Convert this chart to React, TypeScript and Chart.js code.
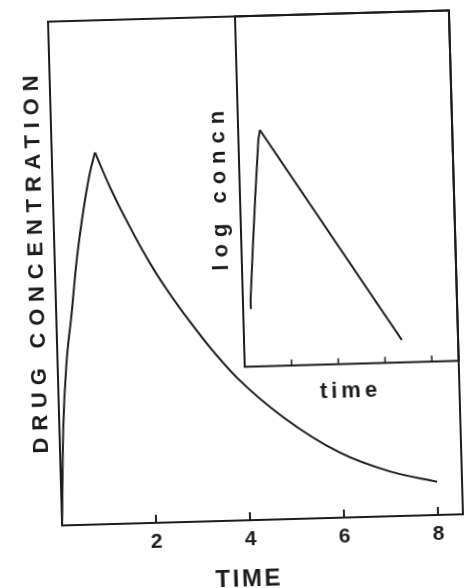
import React, { useEffect, useRef } from 'react';
import { Chart, registerables } from 'chart.js';

Chart.register(...registerables);

const INK = '#1c1c1c';
const FONT = '"Liberation Sans", Arial, Helvetica, sans-serif';

// ---- Main plot: drug concentration vs time (linear) ----
const riseTime = [0, 0.08, 0.19, 0.33, 0.46, 0.63, 0.8, 0.92];
const riseConc = [0, 18.9, 32.2, 42.1, 52.0, 61.9, 69.8, 73.8];
const decayTime = [0.92, 1.22, 1.62, 2.02, 2.43, 2.84, 3.25, 3.8, 4.76, 5.95, 7.0, 8.0];
const decayConc = [73.8, 66.8, 58.8, 51.6, 45.3, 39.7, 34.5, 28.4, 20.3, 12.9, 8.9, 6.6];
const timeTickValues = [2, 4, 6, 8];

// ---- Inset: log concentration vs time ----
const insetRiseTime = [0.3, 0.33, 0.48, 0.64, 0.85, 0.93];
const insetRiseLog = [1.67, 1.9, 3.32, 4.75, 6.46, 6.74];
const insetDecayTime = [0.93, 6.74];
const insetDecayLog = [6.74, 0.64];
const insetTickValues = [2, 4, 6, 8];

const toPoints = (xs: number[], ys: number[]) => xs.map((x, i) => ({ x, y: ys[i] }));

const framePlugin = {
  id: 'frame',
  afterDraw(chart: any) {
    const { ctx, chartArea } = chart;
    ctx.save();
    ctx.strokeStyle = INK;
    ctx.lineWidth = 2;
    ctx.strokeRect(chartArea.left, chartArea.top, chartArea.right - chartArea.left, chartArea.bottom - chartArea.top);
    ctx.restore();
  },
};

const inwardTicks = (len: number, width: number) => ({
  id: 'inwardTicks',
  afterDraw(chart: any) {
    const { ctx, chartArea } = chart;
    const sx = chart.scales.x;
    ctx.save();
    ctx.strokeStyle = INK;
    ctx.lineWidth = width;
    sx.ticks.forEach((t: any) => {
      const px = sx.getPixelForValue(t.value);
      ctx.beginPath();
      ctx.moveTo(px, chartArea.bottom);
      ctx.lineTo(px, chartArea.bottom - len);
      ctx.stroke();
    });
    ctx.restore();
  },
});

type Tweak = { spacing: string; dx: number; dy: number };

const titleTweaks = (map: Record<string, Tweak>) => ({
  id: 'titleTweaks',
  afterUpdate(chart: any) {
    Object.keys(map).forEach((id) => {
      const s = chart.scales[id];
      if (!s || s.__tweaked) return;
      const orig = s.drawTitle;
      s.drawTitle = function (...args: any[]) {
        const ctx = this.ctx;
        const tw = map[id];
        ctx.save();
        ctx.letterSpacing = tw.spacing;
        ctx.translate(tw.dx, tw.dy);
        orig.apply(this, args);
        ctx.restore();
      };
      s.__tweaked = true;
    });
  },
});

const lineStyle = {
  borderColor: INK,
  borderWidth: 2,
  pointRadius: 0,
  fill: false,
};

export default function App() {
  const mainRef = useRef<HTMLCanvasElement>(null);
  const insetRef = useRef<HTMLCanvasElement>(null);

  useEffect(() => {
    const main = new Chart(mainRef.current as HTMLCanvasElement, {
      type: 'line',
      data: {
        datasets: [
          { ...lineStyle, data: toPoints(riseTime, riseConc), cubicInterpolationMode: 'monotone' },
          { ...lineStyle, data: toPoints(decayTime, decayConc), cubicInterpolationMode: 'monotone' },
        ],
      },
      options: {
        responsive: false,
        animation: false,
        layout: { padding: { left: 0, top: 16, right: 12, bottom: 0 } },
        plugins: { legend: { display: false }, tooltip: { enabled: false } },
        scales: {
          x: {
            type: 'linear',
            min: 0,
            max: 8.53,
            afterFit: (s: any) => { s.height = 68; },
            afterBuildTicks: (s: any) => { s.ticks = timeTickValues.map((v) => ({ value: v })); },
            grid: { display: false, drawTicks: false },
            border: { display: false },
            ticks: {
              padding: 6.5,
              color: INK,
              maxRotation: 0,
              font: { family: FONT, size: 21, weight: 'bold' },
            },
            title: {
              display: true,
              text: 'TIME',
              color: INK,
              font: { family: FONT, size: 24, weight: 'bold', lineHeight: 0.75 },
              padding: 0,
            },
          },
          y: {
            type: 'linear',
            min: 0,
            max: 100,
            afterFit: (s: any) => { s.width = 55; },
            grid: { display: false, drawTicks: false },
            border: { display: false },
            ticks: { display: false },
            title: {
              display: true,
              text: 'DRUG CONCENTRATION',
              color: INK,
              font: { family: FONT, size: 22, weight: 'bold' },
              padding: { top: 23.3, bottom: 0 },
            },
          },
        },
      } as any,
      plugins: [
        framePlugin,
        inwardTicks(8, 2),
        titleTweaks({
          x: { spacing: '2.5px', dx: -15, dy: 0 },
          y: { spacing: '6.8px', dx: 0, dy: -13 },
        }),
      ],
    });

    const inset = new Chart(insetRef.current as HTMLCanvasElement, {
      type: 'line',
      data: {
        datasets: [
          { ...lineStyle, data: toPoints(insetRiseTime, insetRiseLog), tension: 0 },
          { ...lineStyle, data: toPoints(insetDecayTime, insetDecayLog), tension: 0 },
        ],
      },
      options: {
        responsive: false,
        animation: false,
        layout: { padding: { left: 0, top: 16, right: 12, bottom: 0 } },
        plugins: { legend: { display: false }, tooltip: { enabled: false } },
        scales: {
          x: {
            type: 'linear',
            min: 0,
            max: 9.145,
            afterFit: (s: any) => { s.height = 43.5; },
            afterBuildTicks: (s: any) => { s.ticks = insetTickValues.map((v) => ({ value: v })); },
            grid: { display: false, drawTicks: false },
            border: { display: false },
            ticks: { display: false },
            title: {
              display: true,
              text: 'time',
              color: INK,
              font: { family: FONT, size: 22, weight: 'bold' },
              padding: { top: 0, bottom: 2.8 },
            },
          },
          y: {
            type: 'linear',
            min: 0,
            max: 10,
            afterFit: (s: any) => { s.width = 52; },
            grid: { display: false, drawTicks: false },
            border: { display: false },
            ticks: { display: false },
            title: {
              display: true,
              text: 'log concn',
              color: INK,
              font: { family: FONT, size: 22, weight: 'bold' },
              padding: { top: 18.5, bottom: 0 },
            },
          },
        },
      } as any,
      plugins: [
        framePlugin,
        inwardTicks(6, 1.5),
        titleTweaks({
          x: { spacing: '4px', dx: -2, dy: 0 },
          y: { spacing: '7px', dx: 0, dy: -5 },
        }),
      ],
    });

    return () => {
      main.destroy();
      inset.destroy();
    };
  }, []);

  return (
    <div style={{ position: 'absolute', left: 0, top: 0, width: 468, height: 588, overflow: 'hidden', background: '#fff' }}>
      <div
        style={{
          position: 'absolute',
          left: 0,
          top: 0,
          width: 468,
          height: 588,
          transform: 'rotate(-1.6deg)',
          transformOrigin: '254px 268px',
        }}
      >
        <canvas
          ref={mainRef}
          width={468}
          height={588}
          style={{ position: 'absolute', left: 0, top: 0, width: 468, height: 588 }}
        />
        <canvas
          ref={insetRef}
          width={278}
          height={410}
          style={{ position: 'absolute', left: 190, top: 0, width: 278, height: 410 }}
        />
      </div>
    </div>
  );
}
